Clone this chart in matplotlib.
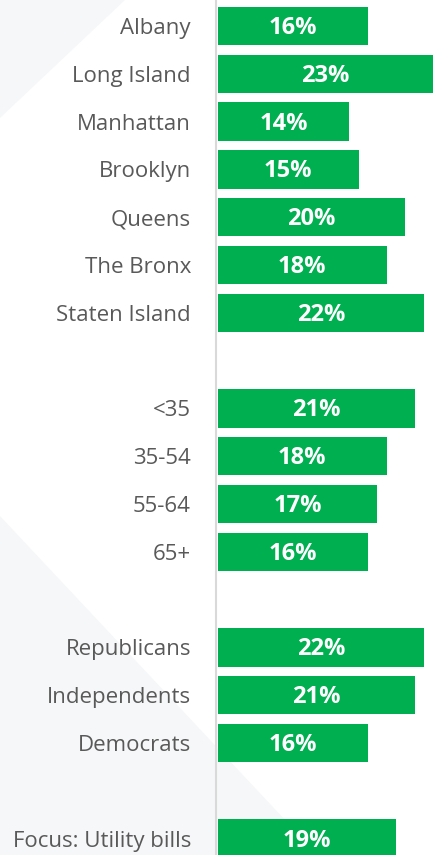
import matplotlib
matplotlib.use('Agg')
import matplotlib.pyplot as plt
from matplotlib.patches import Polygon

# chart data
labels = ['Albany', 'Long Island', 'Manhattan', 'Brooklyn', 'Queens', 'The Bronx',
          'Staten Island', '<35', '35-54', '55-64', '65+',
          'Republicans', 'Independents', 'Democrats', 'Focus: Utility bills']
values = [16, 23, 14, 15, 20, 18, 22, 21, 18, 17, 16, 22, 21, 16, 19]
# row slots (gaps between groups)
slots = [0, 1, 2, 3, 4, 5, 6, 8, 9, 10, 11, 13, 14, 15, 17]

W, H = 433, 855
GREEN = '#00B050'
LABEL = '#595959'

plt.rcParams['font.family'] = ['Open Sans', 'DejaVu Sans']

fig = plt.figure(figsize=(W / 100, H / 100), dpi=100)
fig.patch.set_facecolor('white')

# faint background shapes, drawn in a full-figure axes behind everything
bg = fig.add_axes([0, 0, 1, 1], zorder=-1)
bg.set_xlim(0, W)
bg.set_ylim(H, 0)
bg.axis('off')
bg.add_patch(Polygon([(0, 0), (125, 0), (0, 118)], closed=True,
                     facecolor='#F6F7F9', edgecolor='none'))
bg.add_patch(Polygon([(0, 516), (318, 855), (0, 855)], closed=True,
                     facecolor='#F6F7F9', edgecolor='none'))

ax = fig.add_axes([216 / W, 0, 1 - 216 / W, 1], zorder=1)
ax.patch.set_alpha(0)

ax.barh(slots, values, height=0.8, color=GREEN, left=0.2, zorder=2)

for s, v in zip(slots, values):
    ax.text(0.2 + v / 2, s + 0.04, f'{v}%', ha='center', va='center',
            color='white', fontsize=17, fontweight='bold', zorder=3)

px_per_unit = 9.375
ax.set_xlim(0, (W - 216) / px_per_unit)
row = 47.8
ax.set_ylim((H - 26) / row, -26 / row)

ax.set_yticks(slots)
ax.set_yticklabels(labels, fontsize=16, color=LABEL)
ax.tick_params(axis='y', length=0, pad=18)
ax.set_xticks([])

for side in ['top', 'right', 'bottom']:
    ax.spines[side].set_visible(False)
ax.spines['left'].set_color('#D9D9D9')
ax.spines['left'].set_linewidth(1.5)

fig.savefig('out.png', dpi=100)
